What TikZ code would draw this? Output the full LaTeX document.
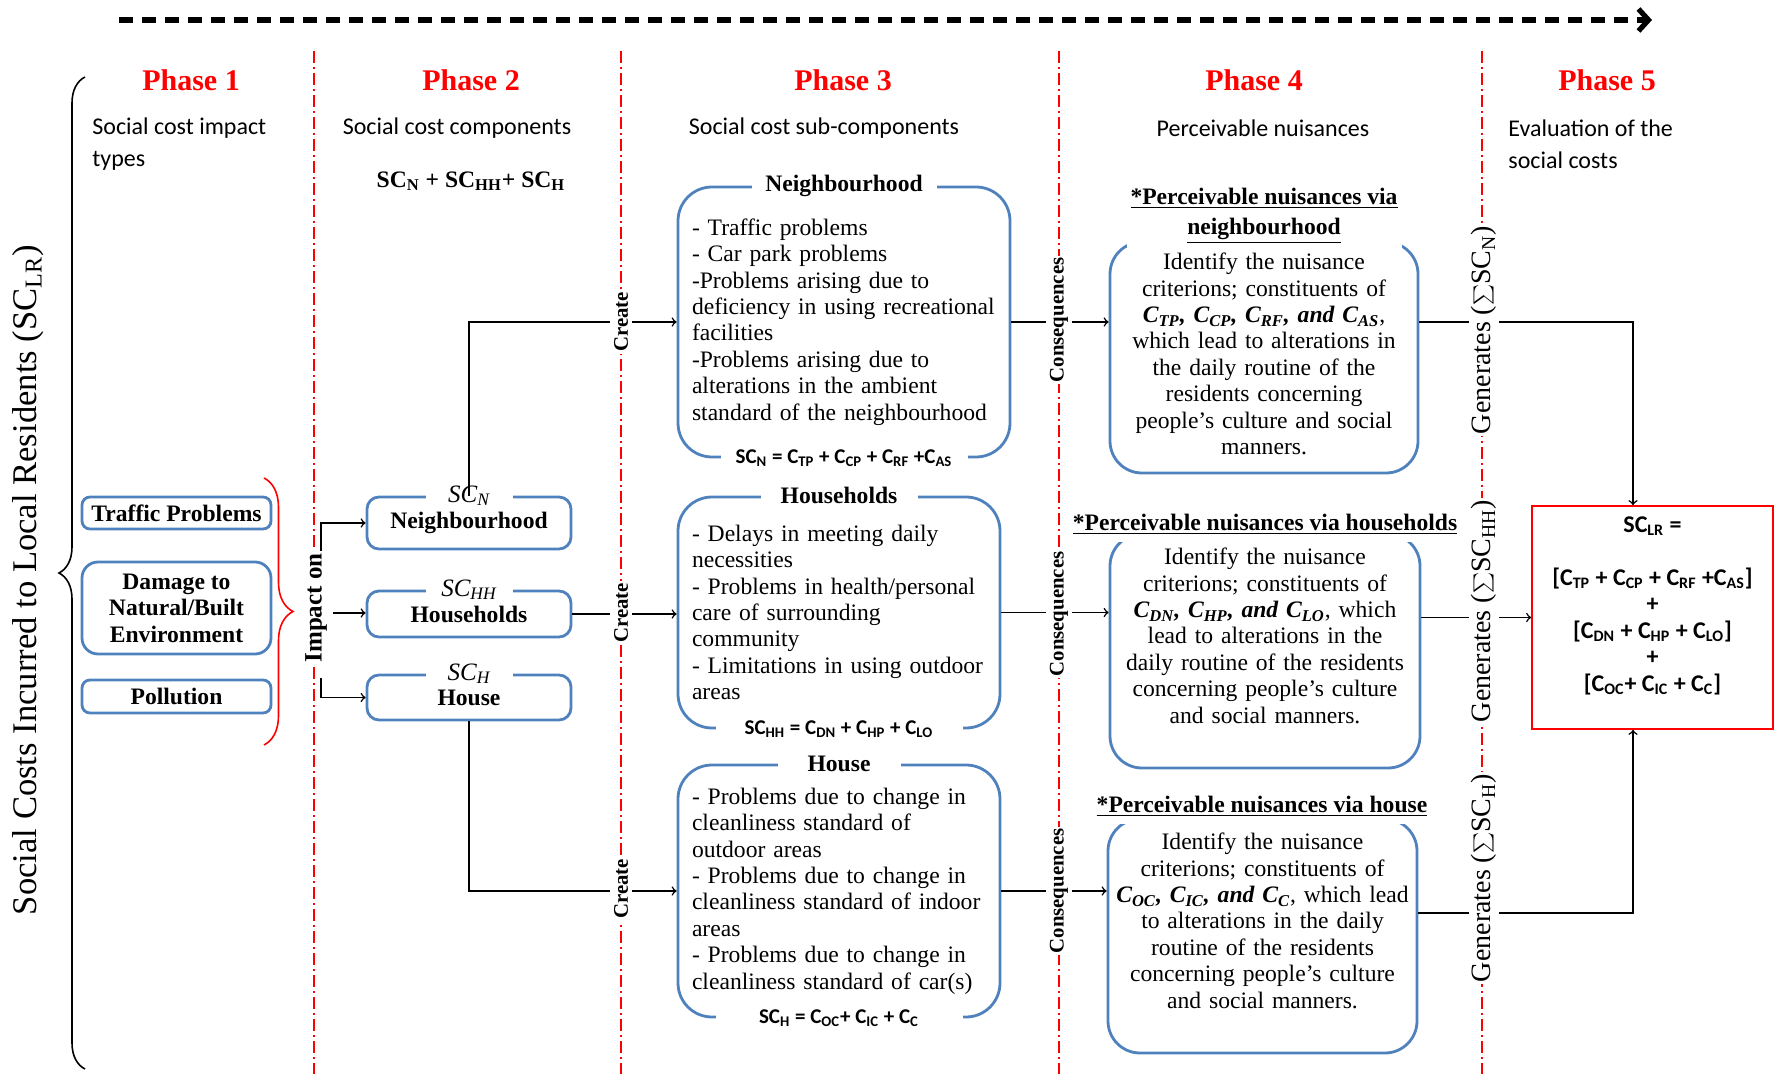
\documentclass[tikz,border=0pt]{standalone}
\usepackage{fontspec}
\setmainfont{Liberation Serif}
\newfontfamily\calib{Carlito}
\usetikzlibrary{positioning,arrows.meta,decorations.pathreplacing}
\definecolor{boxblue}{RGB}{79,129,189}
\newcommand{\sbs}[1]{\textsubscript{#1}}
\newcommand{\bodyfont}{\fontsize{11.8}{13.2}\selectfont}
\begin{document}
\begin{tikzpicture}[x=0.5pt,y=-0.5pt,
  phase/.style={text=red,font=\fontsize{15}{18}\selectfont\bfseries},
  head/.style={font=\calib\fontsize{12}{16}\selectfont,align=left,inner sep=0pt},
  divline/.style={red,line width=0.7pt,dash pattern=on 6pt off 2pt on 1pt off 2pt},
  typebox/.style={draw=boxblue,line width=1.4pt,rounded corners=4pt,minimum width=94.5pt,font=\bodyfont\bfseries,align=center,inner sep=0pt},
  compbox/.style={draw=boxblue,line width=1.4pt,rounded corners=6pt,minimum width=102pt,font=\bodyfont\bfseries,align=center,inner sep=0pt},
  complab/.style={fill=white,minimum width=43.5pt,inner sep=1pt,font=\fontsize{12.5}{14}\selectfont\itshape},
  subbox/.style={draw=boxblue,line width=1.4pt,rounded corners=17pt,font=\bodyfont,align=left,inner xsep=7pt,inner ysep=0pt},
  subtitle/.style={fill=white,inner ysep=1pt,inner xsep=0pt,font=\bodyfont\bfseries},
  subform/.style={fill=white,minimum width=123.5pt,inner sep=1pt,font=\calib\fontsize{10.5}{12}\selectfont\bfseries},
  nuisbox/.style={draw=boxblue,line width=1.4pt,rounded corners=16pt},
  nuistitle/.style={fill=white,inner xsep=2pt,inner ysep=4pt,align=center,font=\fontsize{11.8}{15}\selectfont\bfseries},
  nuistext/.style={text width=150pt,align=center,inner sep=0pt,font=\bodyfont},
  evalbox/.style={draw=red,line width=0.9pt,minimum width=120.5pt,minimum height=111.5pt},
  evaltext/.style={align=center,inner sep=0pt,font=\calib\fontsize{12}{13.25}\selectfont\bfseries},
  vlab/.style={rotate=90,fill=white,inner xsep=1pt,inner ysep=2pt,font=\fontsize{10.4}{12}\selectfont\bfseries},
  genlab/.style={rotate=90,fill=white,inner sep=1pt,font=\fontsize{14}{16}\selectfont},
  conn/.style={line width=0.75pt}]
\useasboundingbox (0,0) rectangle (1783,1074);
% phase dividers and flow arrow
\foreach \dx in {314,621,1059,1482}
  \draw[divline] (\dx,51) -- (\dx,1074);
\coordinate (flowstart) at (119,20);
\coordinate (flowend) at (1652,20);
\draw[line width=2.6pt,dash pattern=on 7pt off 4.5pt,-{Straight Barb[length=5pt,width=11pt]}] (flowstart) -- (flowend);
% headings
\node[phase] (ph1) at (191,80) {Phase 1};
\node[phase] (ph2) at (471,80) {Phase 2};
\node[phase] (ph3) at (843,80) {Phase 3};
\node[phase] (ph4) at (1254,80) {Phase 4};
\node[phase] (ph5) at (1607,80) {Phase 5};
\node[head,anchor=west] (hd1) at (92,144) {Social cost impact\\types};
\node[head] (hd2) at (457,128) {Social cost components};
\node[head] (hd3) at (824,128) {Social cost sub-components};
\node[head] (hd4) at (1263,128) {Perceivable nuisances};
\node[head,anchor=west] (hd5) at (1508,144) {Evaluation of the\\social costs};
\node[font=\bodyfont\bfseries] (sumsc) at (471,181) {SC\sbs{N} + SC\sbs{HH}+ SC\sbs{H}};
\node[rotate=90,font=\fontsize{17.3}{20}\selectfont] (sclrlab) at (28,580) {Social Costs Incurred to Local Residents (SC\sbs{LR})};
\draw[decorate,decoration={brace,amplitude=13pt},line width=0.8pt] (85,1069) -- (85,77);
% phase 1
\node[typebox,minimum height=16pt] (traffic) at (176.5,513) {Traffic Problems};
\node[typebox,minimum height=46pt,rounded corners=8pt] (damage) at (176.5,608) {Damage to\\Natural/Built\\Environment};
\node[typebox,minimum height=16.5pt] (pollution) at (176.5,696.5) {Pollution};
\draw[decorate,decoration={brace,amplitude=14.5pt},red,line width=0.8pt] (264,478) -- (264,745);
% phase 2
\node[compbox,minimum height=26pt] (scn) at (469,523) {Neighbourhood};
\node[compbox,minimum height=23pt] (schh) at (469,614) {Households};
\node[compbox,minimum height=22.5pt] (sch) at (469,697.5) {House};
\node[complab] (scnlab) at (scn.north) {SC\sbs{N}};
\node[complab] (schhlab) at (schh.north) {SC\sbs{HH}};
\node[complab] (schlab) at (sch.north) {SC\sbs{H}};
% phase 3
\node[subbox,text width=152pt,minimum height=135pt] (subn) at (844,322) {- Traffic problems\\- Car park problems\\-Problems arising due to\\deficiency in using recreational\\facilities\\-Problems arising due to\\alterations in the ambient\\standard of the neighbourhood};
\node[subbox,text width=147pt,minimum height=115.5pt] (subhh) at (839,612.5) {- Delays in meeting daily\\necessities\\- Problems in health/personal\\care of surrounding\\community\\- Limitations in using outdoor\\areas};
\node[subbox,text width=147pt,minimum height=126pt] (subh) at (839,891) {- Problems due to change in\\cleanliness standard of\\outdoor areas\\- Problems due to change in\\cleanliness standard of indoor\\areas\\- Problems due to change in\\cleanliness standard of car(s)};
\node[subtitle,minimum width=92.5pt] (subntit) at (subn.north) {Neighbourhood};
\node[subtitle,minimum width=78.5pt] (subhhtit) at (subhh.north) {Households};
\node[subtitle,minimum width=61.5pt] (subhtit) at (subh.north) {House};
\node[subform] (subnform) at (subn.south) {SC\sbs{N} = C\sbs{TP} + C\sbs{CP} + C\sbs{RF} +C\sbs{AS}};
\node[subform] (subhhform) at (subhh.south) {SC\sbs{HH} = C\sbs{DN} + C\sbs{HP} + C\sbs{LO}};
\node[subform] (subhform) at (subh.south) {SC\sbs{H} = C\sbs{OC}+ C\sbs{IC} + C\sbs{C}};
% phase 4
\node[nuisbox,minimum width=154pt,minimum height=115.5pt] (nuisn) at (1264,357.5) {};
\node[nuisbox,minimum width=155pt,minimum height=117pt] (nuishh) at (1265,651) {};
\node[nuisbox,minimum width=154.5pt,minimum height=117pt] (nuish) at (1262.5,936) {};
\node[nuistext,below=6pt of nuisn.north] (nuisntxt) {Identify the nuisance\\criterions; constituents of\\\textbf{\textit{C\sbs{TP}, C\sbs{CP}, C\sbs{RF}, and C\sbs{AS}}},\\which lead to alterations in\\the daily routine of the\\residents concerning\\people’s culture and social\\manners.};
\node[nuistext,below=7.5pt of nuishh.north] (nuishhtxt) {Identify the nuisance\\criterions; constituents of\\\textbf{\textit{C\sbs{DN}, C\sbs{HP}, and C\sbs{LO}}}, which\\lead to alterations in the\\daily routine of the residents\\concerning people’s culture\\and social manners.};
\node[nuistext,below=7.5pt of nuish.north] (nuishtxt) {Identify the nuisance\\criterions; constituents of\\\textbf{\textit{C\sbs{OC}, C\sbs{IC}, and C\sbs{C}}}, which lead\\to alterations in the daily\\routine of the residents\\concerning people’s culture\\and social manners.};
\node[nuistitle] (nuisntit) at (1264,216) {\underline{*Perceivable nuisances via}\\\underline{neighbourhood}};
\node[nuistitle] (nuishhtit) at (1265,524) {\underline{*Perceivable nuisances via households}};
\node[nuistitle] (nuishtit) at (1262,806) {\underline{*Perceivable nuisances via house}};
% phase 5
\node[evalbox] (sclr) at (1652.5,617.5) {};
\node[evaltext,below=5.5pt of sclr.north] (sclrtxt) {SC\sbs{LR} =\\[13.25pt]{[}C\sbs{TP} + C\sbs{CP} + C\sbs{RF} +C\sbs{AS}{]}\\+\\{[}C\sbs{DN} + C\sbs{HP} + C\sbs{LO}{]}\\+\\{[}C\sbs{OC}+ C\sbs{IC} + C\sbs{C}{]}};
% connectors
\coordinate (imptop) at (321,551);
\coordinate (impmid) at (333,613);
\coordinate (impbot) at (321,678);
\draw[conn,-to] (imptop) |- (scn.west);
\draw[conn,-to] (impmid) -- (impmid -| schh.west);
\draw[conn,-to] (impbot) |- (sch.west);
\draw[conn,-to] (scn.north) |- (subn.west);
\draw[conn,-to] (schh.east) -- (schh.east -| subhh.west);
\draw[conn,-to] (sch.south) |- (subh.west);
\draw[conn,-to] (subn.east) -- (subn.east -| nuisn.west);
\draw[conn,-to] (subhh.east) -- (subhh.east -| nuishh.west);
\draw[conn,-to] (subh.east) -- (subh.east -| nuish.west);
\draw[conn,-to] (nuisn.east |- subn.east) -| ([xshift=-9.75pt]sclr.north);
\draw[conn,-to] (nuishh.east |- sclr.west) -- (sclr.west);
\draw[conn,-to] ([yshift=11.5pt]nuish.east) -| ([xshift=-9.75pt]sclr.south);
% labels on the dividers
\node[vlab,font=\fontsize{12.5}{14}\selectfont\bfseries] (impact) at (316,608) {Impact on};
\node[vlab] (create1) at (621,322) {Create};
\node[vlab] (create2) at (621,613) {Create};
\node[vlab] (create3) at (621,889) {Create};
\node[vlab] (cons1) at (1059,320) {Consequences};
\node[vlab] (cons2) at (1059,614) {Consequences};
\node[vlab] (cons3) at (1059,891) {Consequences};
\node[genlab] (gen1) at (1484,330) {Generates ($\sum$SC\sbs{N})};
\node[genlab] (gen2) at (1484,611) {Generates ($\sum$SC\sbs{HH})};
\node[genlab] (gen3) at (1484,878) {Generates ($\sum$SC\sbs{H})};
\end{tikzpicture}
\end{document}
